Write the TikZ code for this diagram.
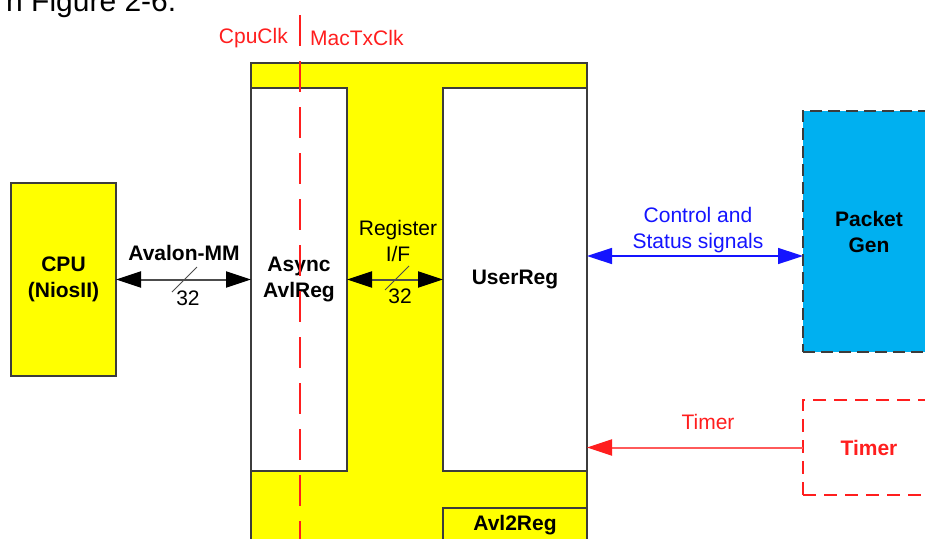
\documentclass[tikz,border=0pt]{standalone}
\usepackage{fontspec}
\setmainfont{Liberation Sans}
\usetikzlibrary{arrows.meta}
\definecolor{yel}{RGB}{255,255,0}
\definecolor{edge}{RGB}{60,60,60}
\definecolor{pktblue}{RGB}{0,176,240}
\definecolor{sigblue}{RGB}{20,20,255}
\definecolor{clkred}{RGB}{255,30,30}
\definecolor{tmrline}{RGB}{255,90,90}
\tikzset{
  txt/.style={font=\fontsize{21}{26}\selectfont, align=center, inner sep=0pt},
  btxt/.style={txt, font=\fontsize{21}{26}\selectfont\bfseries},
  blk/.style={draw=edge, line width=1.5pt, inner sep=0pt, outer sep=0pt, anchor=north west, align=center, font=\fontsize{21}{26}\selectfont\bfseries},
  yblk/.style={blk, fill=yel},
  wblk/.style={blk, fill=white},
  bus/.style={line width=2pt, draw=black!70, {Triangle[length=25pt,width=16pt,fill=black,color=black]}-{Triangle[length=25pt,width=16pt,fill=black,color=black]}},
  ctl/.style={line width=1.5pt, draw=sigblue, {Triangle[length=25pt,width=16pt]}-{Triangle[length=25pt,width=16pt]}},
  tmr/.style={line width=2pt, draw=tmrline, -{Triangle[length=25pt,width=16pt,color=clkred]}},
  clk/.style={line width=2pt, draw=clkred, dash pattern=on 31pt off 15pt},
  slash/.style={line width=1pt, draw=black!70}
}
\begin{document}
\begin{tikzpicture}[x=1pt,y=-1pt]
\useasboundingbox (0,0) rectangle (925,538);
\clip (0,0) rectangle (925,538);
\fill[white] (0,0) rectangle (925,538);

% caption fragment at the top
\node[anchor=base west, inner sep=0pt, font=\fontsize{30}{36}\selectfont] (cap) at (6,12) {n Figure 2-6.};

% blocks
\node[yblk, minimum width=336pt, minimum height=500pt] (big) at (251,63) {};
\node[wblk, minimum width=96pt, minimum height=383pt] (async) at (251,88) {Async\\AvlReg};
\node[wblk, minimum width=144pt, minimum height=383pt] (user) at (443,88) {UserReg};
\node[yblk, minimum width=144pt, minimum height=34pt] (avl) at (443,508) {Avl2Reg};
\node[yblk, minimum width=105pt, minimum height=193pt] (cpu) at (11,183) {CPU\\(NiosII)};
\node[blk, fill=pktblue, dash pattern=on 12pt off 6pt, minimum width=132pt, minimum height=241pt] (pkt) at (803,111) {Packet\\Gen};
\node[blk, draw=clkred, text=clkred, dash pattern=on 13pt off 8pt, minimum width=132pt, minimum height=95pt] (timer) at (803,400) {Timer};

% clock domain line
\coordinate (clkTop) at (300,15);
\coordinate (clkBot) at (300,545);
\draw[clk] (clkTop) -- (clkBot);
\node[txt, text=clkred, anchor=east] (cpuclk) at (288,38) {CpuClk};
\node[txt, text=clkred, anchor=west] (macclk) at (310,38) {MacTxClk};

% Avalon-MM bus
\draw[bus] (cpu.east) -- (async.west);
\node[btxt] (avlbl) at (184,253) {Avalon-MM};
\draw[slash] (197,267) -- (172,292);
\node[txt] (av32) at (188,298) {32};

% Register I/F bus
\draw[bus] (async.east) -- (user.west);
\node[txt] (reglbl) at (398,241) {Register\\I/F};
\draw[slash] (409,266) -- (385,290);
\node[txt] (rg32) at (400,296) {32};

% control and status
\draw[ctl] ([yshift=-24.5pt]pkt.west -| user.east) -- ([yshift=-24.5pt]pkt.west);
\node[txt, text=sigblue] (ctllbl) at (698,230) {Control and\\Status signals};

% timer
\draw[tmr] (timer.west) -- (timer.west -| user.east);
\node[txt, text=clkred] (tmrlbl) at (708,422) {Timer};
\end{tikzpicture}
\end{document}
